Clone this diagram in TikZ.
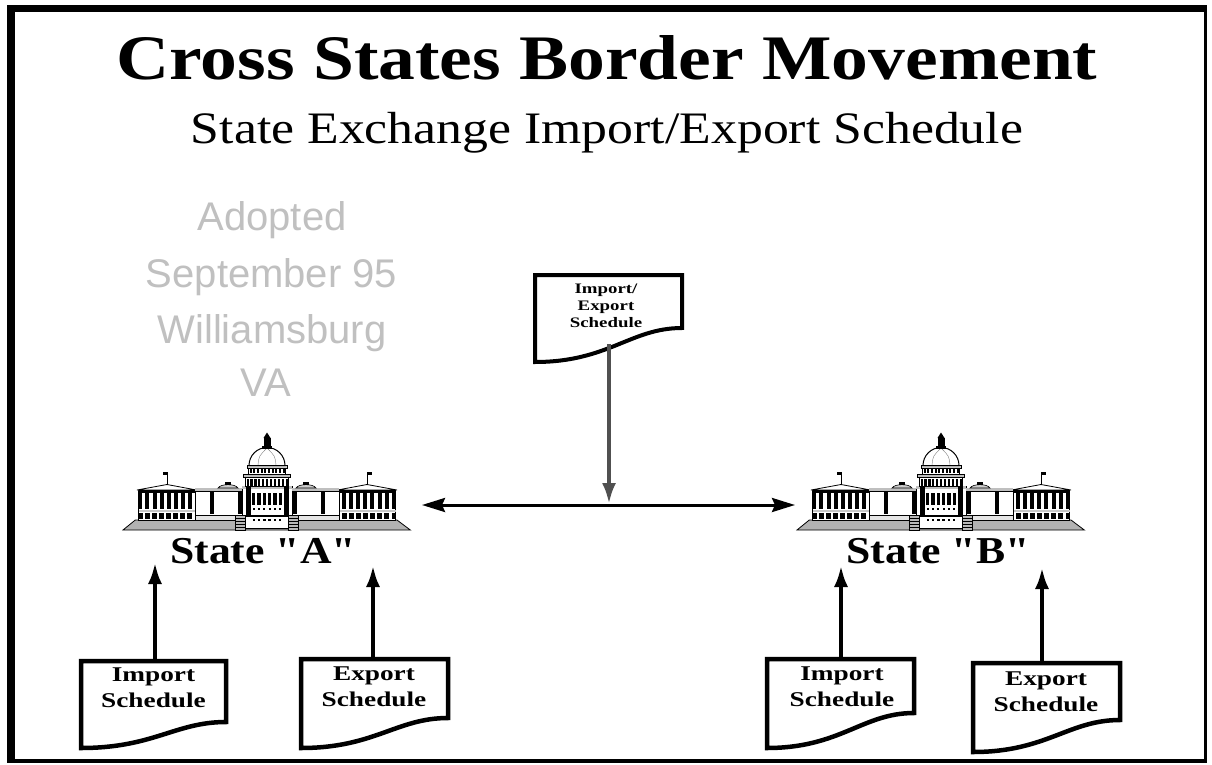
\documentclass[tikz,border=0pt]{standalone}
\usepackage{fontspec}
\setmainfont{Liberation Serif}
\newfontfamily\titlefont[FakeStretch=1.16]{Liberation Serif}
\newfontfamily\subfont[FakeStretch=1.15]{Liberation Serif}
\newfontfamily\docfont[FakeStretch=1.3]{Liberation Serif}
\newfontfamily\grayfont{Liberation Sans}
\usetikzlibrary{arrows.meta}
\definecolor{lgray}{RGB}{192,192,192}
\definecolor{arrgray}{RGB}{80,80,80}
\newcommand{\docpath}[6][]{\draw[docline,#1] (#2,#3) -- (#4,#3) -- (#4,#5) .. controls ({#4-0.35*(#4-#2)},#5) and ({#2+0.5*(#4-#2)},#6) .. (#2,#6) -- cycle;}
\tikzset{
  docline/.style={line width=4.5pt, line join=miter, fill=white},
  doctext/.style={font=\docfont\bfseries\fontsize{21}{26}\selectfont, align=center, inner sep=0pt},
  smalldoctext/.style={font=\docfont\bfseries\fontsize{14.5}{17}\selectfont, align=center, inner sep=0pt},
  graytxt/.style={font=\grayfont\fontsize{40}{48}\selectfont, text=lgray, inner sep=0pt, anchor=base},
  statelabel/.style={font=\subfont\bfseries\fontsize{38}{40}\selectfont, inner sep=0pt, anchor=base},
  varrow/.style={line width=4.5pt, -{Latex[length=22pt,width=14pt]}},
  garrow/.style={draw=arrgray, line width=4pt, -{Latex[length=21pt,width=14pt]}},
  harrow/.style={line width=3pt, {Stealth[length=23pt,width=14pt,inset=3pt]}-{Stealth[length=23pt,width=14pt,inset=3pt]}},
  capitol/.pic={
    % base platform
    \filldraw[fill=gray!60, draw=black, line width=0.8pt] (-131.7,-10) -- (130,-10) -- (143.3,0) -- (-144,0) -- cycle;
    % central building
    \draw[fill=white, line width=0.8pt] (-25,-44) rectangle (25,-15);
    \fill[gray!50] (-25,-44) rectangle (25,-41);
    \foreach \i in {0,...,5} {\fill ({-14.9+\i*5.3},-36.7) rectangle ++(3.2,11.7);}
    \foreach \i in {0,...,5} {\fill ({-14.3+\i*5.3},-22) rectangle ++(2,2);}
    % lower drum
    \draw[fill=white, line width=0.8pt] (-21.7,-53) rectangle (21.7,-44);
    \foreach \i in {0,...,10} {\fill ({-20.5+\i*3.9},-51.5) rectangle ++(2.2,7);}
    \draw[fill=gray!50, line width=0.6pt] (-23.5,-56) rectangle (23.5,-53);
    % upper drum
    \draw[fill=white, line width=0.8pt] (-18.3,-62) rectangle (18.3,-56);
    \foreach \i in {0,...,9} {\fill ({-17.3+\i*3.67},-61) rectangle ++(1.9,4);}
    \draw[fill=gray!40, line width=0.6pt] (-20,-64.5) rectangle (20,-62);
    % dome
    \draw[fill=white, line width=1pt] (-18,-64.5) arc[start angle=180, end angle=360, radius=18] -- cycle;
    \draw[line width=0.4pt, gray] (-9,-65) .. controls (-8,-74) .. (0,-82);
    \draw[line width=0.4pt, gray] (9,-65) .. controls (8,-74) .. (0,-82);
    % lantern
    \fill (-5,-84) rectangle (5,-81.5);
    \fill (-3.5,-92) rectangle (3.5,-84);
    \fill (-3.5,-92) -- (0,-97.5) -- (3.5,-92) -- cycle;
    \foreach \s in {-1,1}{
      \begin{scope}[xscale=\s]
        % wing
        \draw[fill=white, line width=0.8pt] (72,-40) rectangle (128.5,-10);
        \draw[fill=white, line width=0.8pt] (70.5,-40) -- (100,-45.5) -- (130,-40) -- cycle;
        \fill (72,-40) rectangle (128.5,-37);
        \foreach \i in {0,...,7} {\fill ({75+\i*7.1},-37.5) rectangle ++(4,16.5);}
        \fill[gray!45] (72,-20.5) rectangle (128.5,-18);
        \foreach \i in {0,...,7} {\fill ({74.8+\i*7.1},-17) rectangle ++(4.8,6);}
        % flag
        \draw[line width=0.8pt] (100,-45) -- (100,-58.5);
        \fill (100,-58.5) rectangle (104.5,-55.5);
        % connector
        \fill[gray!50] (25,-42) rectangle (72,-39);
        \draw[fill=white, line width=0.8pt] (25,-39) rectangle (72,-15);
        \fill (25,-38) rectangle (29.5,-16);
        \fill (53.5,-38) rectangle (57.5,-16);
        \draw[fill=gray!40, line width=0.6pt] (29,-42) .. controls (32,-46.5) and (46,-46.5) .. (49,-42) -- cycle;
        \fill (36,-48.5) rectangle (42,-45.5);
        \draw[fill=gray!20, line width=0.6pt] (21.7,-15) rectangle (72,-10);
        % steps
        \draw[fill=gray!55, line width=0.6pt] (21.7,-15) rectangle (31.7,0);
        \foreach \v in {-12,-9,-6,-3} {\draw[line width=0.5pt] (21.7,\v) -- (31.7,\v);}
        % central pillars
        \fill (16.5,-43) rectangle (21.5,-15);
      \end{scope}
    }
    % portico base
    \draw[fill=white, line width=0.8pt] (-21.7,-15) rectangle (21.7,-2);
    \fill (-21.7,-15.5) rectangle (21.7,-13.5);
    \foreach \i in {0,...,5} {\fill ({-14.5+\i*5.3},-11) rectangle ++(2.4,2.4);}
  }
}
\begin{document}
\begin{tikzpicture}[x=1pt,y=-1pt]
\useasboundingbox (0,0) rectangle (1212,765);
% frame
\fill (7,5) rectangle (1207,763);
\fill[white] (15,12) rectangle (1204,759);
% titles
\node[anchor=base, inner sep=0pt, font=\titlefont\bfseries\fontsize{63.4}{70}\selectfont] (title) at (607,80) {Cross States Border Movement};
\node[anchor=base, inner sep=0pt, font=\subfont\fontsize{45}{50}\selectfont] (subtitle) at (607,143) {State Exchange Import/Export Schedule};
% gray note
\node[graytxt] (note1) at (272,230) {Adopted};
\node[graytxt] (note2) at (271.5,287) {September 95};
\node[graytxt] (note3) at (272,343) {Williamsburg};
\node[graytxt] (note4) at (266,396) {VA};
% capitols
\pic (capA) at (267,530) {capitol};
\pic (capB) at (941,530) {capitol};
\node[statelabel] (stateA) at (263,563) {State "A"};
\node[statelabel] (stateB) at (938,563) {State "B"};
% top document
\docpath[line width=4pt]{535}{275}{682}{328}{362}
\node[smalldoctext] (iedoc) at (606,305.5) {Import/\\Export\\Schedule};
% bottom documents
\docpath{81}{661}{226}{722}{748}
\node[doctext] (impA) at (153.5,688) {Import\\Schedule};
\docpath{301}{659}{448}{718}{748}
\node[doctext] (expA) at (374,687) {Export\\Schedule};
\docpath{767}{659}{914}{713}{748}
\node[doctext] (impB) at (842,687) {Import\\Schedule};
\docpath{973}{663}{1120}{720}{752}
\node[doctext] (expB) at (1046,692) {Export\\Schedule};
% connector end points
\coordinate (impA-top) at (155,661);
\coordinate (impA-tip) at (155,562);
\coordinate (expA-top) at (373,659);
\coordinate (expA-tip) at (373,565);
\coordinate (impB-top) at (841,659);
\coordinate (impB-tip) at (841,565);
\coordinate (expB-top) at (1042,663);
\coordinate (expB-tip) at (1042,567);
\coordinate (ie-out) at (609,344);
\coordinate (hub) at (609,504);
\coordinate (tipA) at (422,505);
\coordinate (tipB) at (795,505);
% connectors
\draw[varrow] (impA-top) -- (impA-tip);
\draw[varrow] (expA-top) -- (expA-tip);
\draw[varrow] (impB-top) -- (impB-tip);
\draw[varrow] (expB-top) -- (expB-tip);
\draw[harrow] (tipA) -- (tipB);
\draw[garrow] (ie-out) -- (hub);
\end{tikzpicture}
\end{document}
